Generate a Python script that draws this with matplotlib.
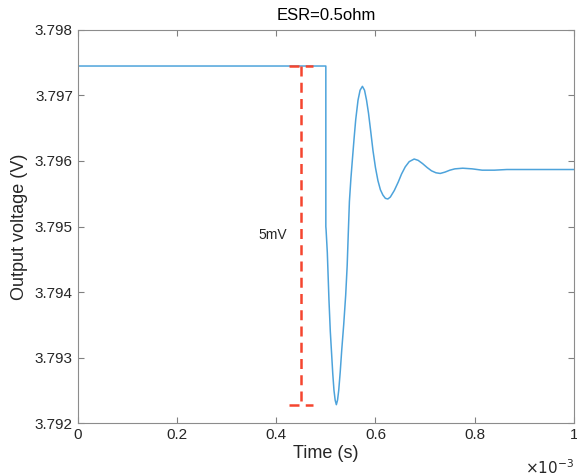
import numpy as np
import matplotlib
matplotlib.use("Agg")
import matplotlib.pyplot as plt
from matplotlib.ticker import FuncFormatter, FormatStrFormatter

plt.rcParams['font.family'] = ['Liberation Sans', 'DejaVu Sans']

# output voltage trace (time in s, voltage in V)
time_s = [0.0, 0.2e-3, 0.4e-3, 0.5e-3, 0.5e-3, 0.5005e-3, 0.5030e-3, 0.5063e-3,
          0.5090e-3, 0.5117e-3, 0.5140e-3, 0.5164e-3, 0.5188e-3, 0.5212e-3,
          0.5236e-3, 0.5260e-3, 0.5290e-3, 0.5320e-3, 0.5360e-3, 0.5400e-3,
          0.5430e-3, 0.5455e-3, 0.5475e-3, 0.5505e-3, 0.5535e-3, 0.5570e-3,
          0.5602e-3, 0.5649e-3, 0.5690e-3, 0.5737e-3, 0.5780e-3, 0.5820e-3,
          0.5860e-3, 0.5905e-3, 0.5950e-3, 0.6000e-3, 0.6050e-3, 0.6100e-3,
          0.6150e-3, 0.6200e-3, 0.6250e-3, 0.6300e-3, 0.6380e-3, 0.6460e-3,
          0.6525e-3, 0.6600e-3, 0.6680e-3, 0.6780e-3, 0.6860e-3, 0.6950e-3,
          0.7042e-3, 0.7130e-3, 0.7220e-3, 0.7305e-3, 0.7400e-3, 0.7500e-3,
          0.7600e-3, 0.7758e-3, 0.7950e-3, 0.8150e-3, 0.8396e-3, 0.8650e-3,
          0.9000e-3, 1.0e-3]
voltage_v = [3.79745, 3.79745, 3.79745, 3.79745, 3.79500, 3.79495, 3.79460, 3.79388,
             3.79340, 3.79305, 3.79275, 3.79250, 3.79235, 3.79228,
             3.79235, 3.79250, 3.79278, 3.79311, 3.79350, 3.79395,
             3.79440, 3.79495, 3.79538, 3.79573, 3.79602, 3.79635,
             3.79663, 3.79693, 3.79708, 3.79714, 3.79708, 3.79693,
             3.79673, 3.79645, 3.79616, 3.79590, 3.79570, 3.79556,
             3.79548, 3.79543, 3.79542, 3.79545, 3.79555, 3.79568,
             3.79580, 3.79591, 3.79599, 3.79603, 3.79601, 3.79596,
             3.79590, 3.79585, 3.79582, 3.79581, 3.79583, 3.79586,
             3.79588, 3.79589, 3.79588, 3.79586, 3.79586, 3.79587,
             3.79587, 3.79587]

# 5mV marker
marker_t = 0.45e-3
marker_cap = 0.025e-3
marker_top = 3.79745
marker_bot = 3.79228
marker_label = "5mV"

fig = plt.figure(figsize=(5.77, 4.76), dpi=100)
ax = fig.add_axes([0.1347, 0.1113, 0.860, 0.8257])

ax.plot(time_s, voltage_v, color='#4DA3DB', lw=1.1)

red = '#F5452F'
dash = (0, (4, 2.5))
ax.plot([marker_t - marker_cap, marker_t + marker_cap], [marker_top, marker_top],
        color=red, lw=1.8, ls=dash)
ax.plot([marker_t, marker_t], [marker_top, marker_bot], color=red, lw=1.8, ls=dash)
ax.plot([marker_t - marker_cap, marker_t + marker_cap], [marker_bot, marker_bot],
        color=red, lw=1.8, ls=dash)
ax.text(0.3925e-3, 3.79487, marker_label, ha='center', va='center',
        fontsize=10, color='#262626')

ax.set_xlim(0, 1e-3)
ax.set_ylim(3.792, 3.798)
ax.set_xticks(np.arange(0, 1.01e-3, 0.2e-3))
ax.set_yticks(np.arange(3.792, 3.7981, 0.001))
ax.xaxis.set_major_formatter(FuncFormatter(lambda x, p: f"{x * 1e3:g}"))
ax.yaxis.set_major_formatter(FormatStrFormatter('%.3f'))

ax.tick_params(direction='in', top=True, right=True, length=4, width=0.8,
               colors='#808080', labelcolor='#262626', labelsize=11)
for s in ax.spines.values():
    s.set_color('#8C8C8C')
    s.set_linewidth(0.8)

ax.set_xlabel('Time (s)', fontsize=13, color='#262626', labelpad=2)
ax.set_ylabel('Output voltage (V)', fontsize=13, color='#262626', labelpad=5)
ax.set_title('ESR=0.5ohm', fontsize=12, color='#000000', pad=7)
ax.text(1.0, -0.113, r'$\times10^{-3}$', transform=ax.transAxes, ha='right',
        va='center', fontsize=11, color='#262626')

fig.savefig('out.png', dpi=100)
